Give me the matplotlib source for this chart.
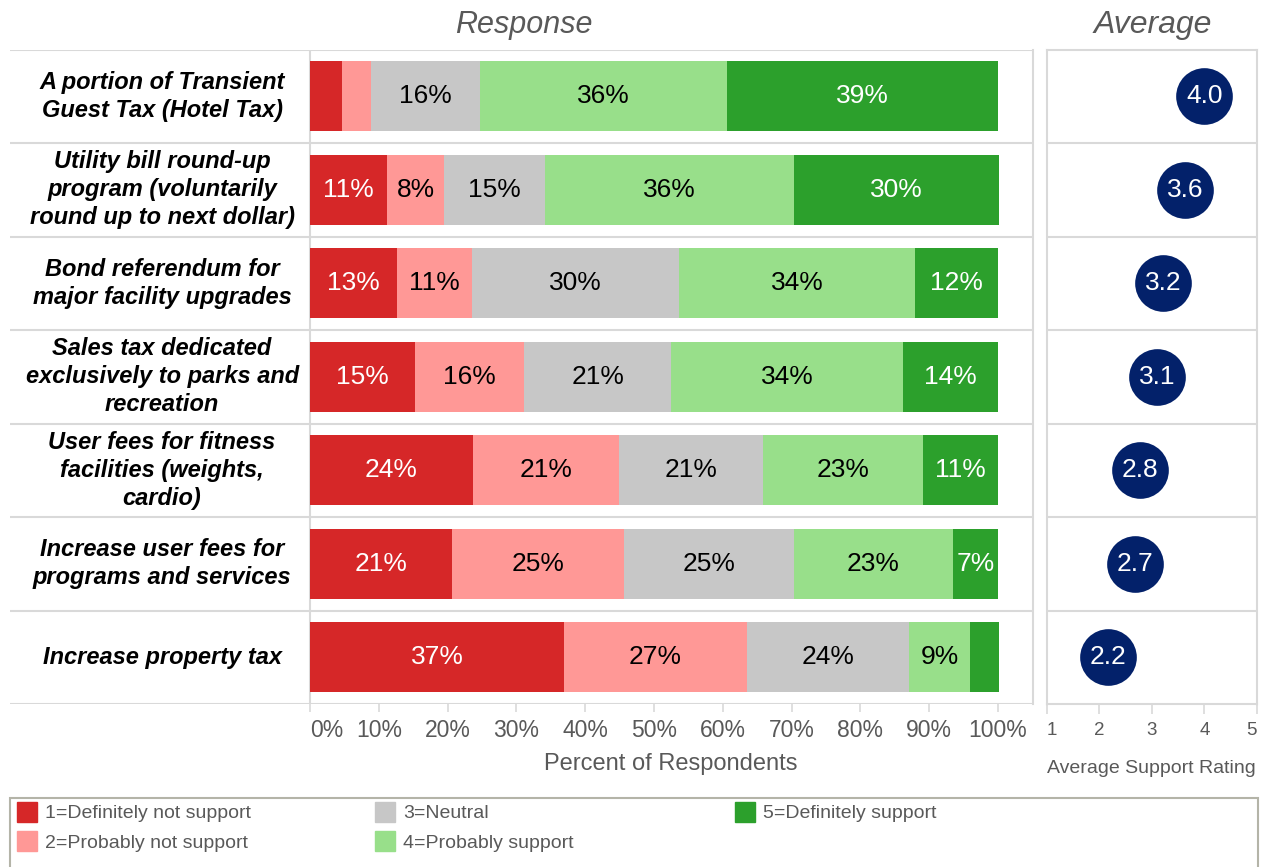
import matplotlib.pyplot as plt
from matplotlib.patches import Rectangle
import numpy as np

plt.rcParams['font.family'] = ['Liberation Sans', 'DejaVu Sans']

# data (percent of respondents)
items = ['A portion of Transient\nGuest Tax (Hotel Tax)',
         'Utility bill round-up\nprogram (voluntarily\nround up to next dollar)',
         'Bond referendum for\nmajor facility upgrades',
         'Sales tax dedicated\nexclusively to parks and\nrecreation',
         'User fees for fitness\nfacilities (weights,\ncardio)',
         'Increase user fees for\nprograms and services',
         'Increase property tax']
definitely_not = [4.7, 11.2, 12.6, 15.3, 23.7, 20.6, 36.9]
probably_not = [4.2, 8.3, 10.9, 15.8, 21.2, 25.1, 26.6]
neutral = [15.8, 14.6, 30.2, 21.4, 20.9, 24.7, 23.5]
probably = [35.9, 36.2, 34.2, 33.7, 23.3, 23.0, 9.0]
definitely = [39.4, 29.8, 12.1, 13.8, 10.9, 6.6, 4.1]
averages = [4.0, 3.64, 3.21, 3.1, 2.77, 2.68, 2.16]

levels = ['1=Definitely not support', '2=Probably not support', '3=Neutral',
          '4=Probably support', '5=Definitely support']
colors = ['#D62728', '#FF9896', '#C7C7C7', '#98DF8A', '#2CA02C']
text_colors = ['white', 'black', 'black', 'black', 'white']
series = [definitely_not, probably_not, neutral, probably, definitely]

W, H = 1265, 867
grid = '#D9D9D9'
gray_txt = '#595959'
navy = '#03216A'

fig = plt.figure(figsize=(W / 100, H / 100), dpi=100)
top, bottom = 49.5, 704
ax = fig.add_axes([10 / W, 1 - bottom / H, 1023 / W, (bottom - top) / H])
ax2 = fig.add_axes([1046.7 / W, 1 - bottom / H, 210.3 / W, (bottom - top) / H])

rows = np.arange(len(items))

# stacked bars
left = np.zeros(len(items))
for vals, c, tc in zip(series, colors, text_colors):
    vals = np.array(vals)
    ax.barh(rows, vals, left=left, height=0.75, color=c, zorder=2)
    for r, v, l in zip(rows, vals, left):
        if v >= 5:
            ax.text(l + v / 2, r, f'{round(v)}%', ha='center', va='center',
                    fontsize=19, color=tc, zorder=3)
    left += vals

for r, lab in zip(rows, items):
    ax.text(-21.5, r, lab, ha='center', va='center', fontsize=17,
            fontweight='bold', style='italic', linespacing=1.27)

ax.set_xlim((10 - 310) / 6.88, (1033 - 310) / 6.88)
ax.set_ylim(len(items) - 0.5, -0.5)
for b in np.arange(-0.5, len(items)):
    ax.axhline(b, color=grid, lw=1.5, zorder=1)
ax.axvline(0, color=grid, lw=1.5, zorder=1)
for s in ['left', 'top', 'bottom']:
    ax.spines[s].set_visible(False)
ax.spines['right'].set_color(grid)
ax.spines['right'].set_linewidth(1.5)
ticks = list(range(0, 101, 10))
ax.set_xticks(ticks, [f'{t}%' for t in ticks])
ax.set_yticks([])
ax.tick_params(axis='x', length=6, width=1.2, color=grid, pad=5,
               labelsize=16.5, labelcolor=gray_txt)
ax.get_xticklabels()[0].set_horizontalalignment('left')

# average panel
ax2.scatter(averages, rows, s=1665, color=navy, linewidths=0, zorder=3,
            clip_on=False)
for r, a in zip(rows, averages):
    ax2.text(a, r, f'{a:.1f}', ha='center', va='center', fontsize=19,
             color='white', zorder=4)
ax2.set_xlim(1, 5)
ax2.set_ylim(len(items) - 0.5, -0.5)
for b in np.arange(0.5, len(items) - 1):
    ax2.axhline(b, color=grid, lw=1.5, zorder=1)
for s in ax2.spines.values():
    s.set_color(grid)
    s.set_linewidth(1.5)
ax2.set_xticks([1, 2, 3, 4, 5])
ax2.set_yticks([])
ax2.tick_params(axis='x', length=7, width=1.2, color=grid, pad=6,
                labelsize=13.5, labelcolor=gray_txt)
xl = ax2.get_xticklabels()
xl[0].set_horizontalalignment('left')
xl[-1].set_horizontalalignment('right')
ax2.set_xlabel('Average Support Rating', fontsize=14, color=gray_txt,
               labelpad=15)

fig.text(524 / W, 1 - 25 / H, 'Response', ha='center', va='center',
         fontsize=22, style='italic', color=gray_txt)
fig.text(1153 / W, 1 - 25 / H, 'Average', ha='center', va='center',
         fontsize=23, style='italic', color=gray_txt)
fig.text(671 / W, 1 - 764 / H, 'Percent of Respondents', ha='center',
         va='center', fontsize=17, color=gray_txt)

# legend box
fig.patches.append(Rectangle((10 / W, 1 - 872 / H), 1248 / W, 74 / H,
                             transform=fig.transFigure, fill=False,
                             edgecolor='#B4B4A8', lw=1.5))
spots = [(17, 802), (17, 831), (375, 802), (375, 831), (735, 802)]
for (x0, y0), lab, c in zip(spots, levels, colors):
    fig.patches.append(Rectangle((x0 / W, 1 - (y0 + 20) / H), 20 / W, 20 / H,
                                 transform=fig.transFigure, color=c))
    fig.text((x0 + 28) / W, 1 - (y0 + 12) / H, lab, ha='left', va='center',
             fontsize=14, color=gray_txt)

fig.savefig('out.png', dpi=100)
